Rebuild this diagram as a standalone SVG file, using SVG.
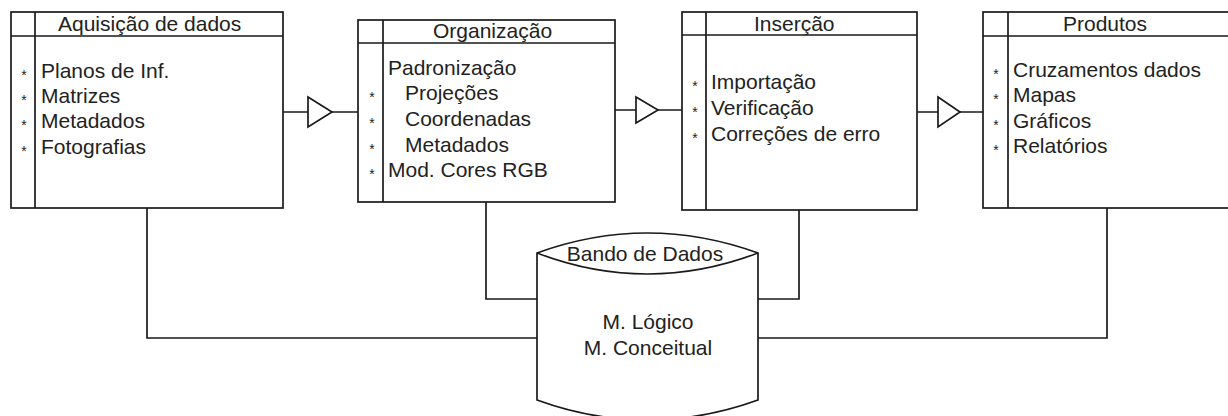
<svg xmlns="http://www.w3.org/2000/svg" width="1228" height="416" viewBox="0 0 1228 416">
<style>
.ln{fill:none;stroke:#1a1a1a;stroke-width:1.7}
.bx{fill:#fff;stroke:#1a1a1a;stroke-width:1.7}
.t{font-family:"Liberation Sans",Arial,sans-serif;font-size:21px;fill:#222}
.b{font-family:"Liberation Sans",Arial,sans-serif;font-size:14px;fill:#222;text-anchor:middle}
.c{text-anchor:middle}
</style>
<rect width="1228" height="416" fill="#fff"/>
<g id="connectors">
<path class="ln" d="M283,112 H308 M332,112 H358"/>
<path class="bx" d="M308,97 L332,112 L308,127 Z"/>
<path class="ln" d="M615,110 H636 M658,110 H682"/>
<path class="bx" d="M636,97 L658,110 L636,123 Z"/>
<path class="ln" d="M917,112 H938 M960,112 H983"/>
<path class="bx" d="M938,97 L960,112 L938,127 Z"/>
<path class="ln" d="M147,208 V338 H537"/>
<path class="ln" d="M486,202 V299 H537"/>
<path class="ln" d="M799,210 V299 H758"/>
<path class="ln" d="M1107,208 V338 H758"/>
</g>
<g id="aquisicao">
<rect class="bx" x="11" y="12" width="272" height="196"/>
<path class="ln" d="M35,12 V208 M11,36 H283"/>
<text class="t" x="58" y="31">Aquisição de dados</text>
<text class="t" x="41" y="78">Planos de Inf.</text>
<text class="t" x="41" y="103">Matrizes</text>
<text class="t" x="41" y="128">Metadados</text>
<text class="t" x="41" y="154">Fotografias</text>
<text class="b" x="24" y="80">*</text>
<text class="b" x="24" y="105">*</text>
<text class="b" x="24" y="130">*</text>
<text class="b" x="24" y="156">*</text>
</g>
<g id="organizacao">
<rect class="bx" x="358" y="20" width="257" height="182"/>
<path class="ln" d="M383,20 V202 M358,43 H615"/>
<text class="t" x="433" y="38">Organização</text>
<text class="t" x="388" y="75">Padronização</text>
<text class="t" x="405" y="100">Projeções</text>
<text class="t" x="405" y="126">Coordenadas</text>
<text class="t" x="405" y="152">Metadados</text>
<text class="t" x="388" y="177">Mod. Cores RGB</text>
<text class="b" x="372" y="102">*</text>
<text class="b" x="372" y="128">*</text>
<text class="b" x="372" y="154">*</text>
<text class="b" x="372" y="179">*</text>
</g>
<g id="insercao">
<rect class="bx" x="682" y="12" width="235" height="198"/>
<path class="ln" d="M706,12 V210 M682,35 H917"/>
<text class="t" x="754" y="31">Inserção</text>
<text class="t" x="711" y="89">Importação</text>
<text class="t" x="711" y="115">Verificação</text>
<text class="t" x="711" y="141">Correções de erro</text>
<text class="b" x="695" y="91">*</text>
<text class="b" x="695" y="117">*</text>
<text class="b" x="695" y="143">*</text>
</g>
<g id="produtos">
<rect class="bx" x="983" y="12" width="250" height="196"/>
<path class="ln" d="M1008,12 V208 M983,36 H1233"/>
<text class="t" x="1063" y="31">Produtos</text>
<text class="t" x="1013" y="77">Cruzamentos dados</text>
<text class="t" x="1013" y="102">Mapas</text>
<text class="t" x="1013" y="128">Gráficos</text>
<text class="t" x="1013" y="153">Relatórios</text>
<text class="b" x="996" y="79">*</text>
<text class="b" x="996" y="104">*</text>
<text class="b" x="996" y="130">*</text>
<text class="b" x="996" y="155">*</text>
</g>
<g id="banco">
<path class="bx" d="M537,253 Q647,213 758,253 V400 Q647,440 537,400 Z"/>
<path class="ln" d="M537,253 Q647,295 758,253"/>
<text class="t c" x="645" y="261">Bando de Dados</text>
<text class="t c" x="648" y="329">M. Lógico</text>
<text class="t c" x="648" y="355">M. Conceitual</text>
</g>
</svg>
